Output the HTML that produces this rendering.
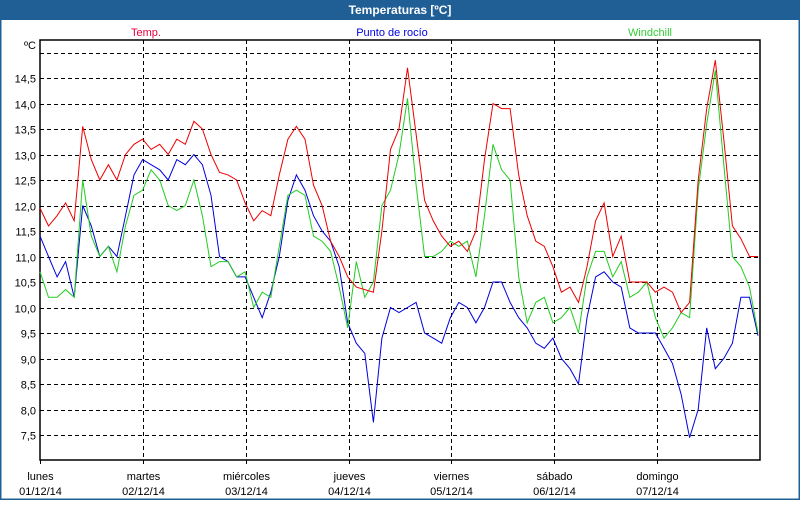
<!DOCTYPE html>
<html><head><meta charset="utf-8"><style>
body{margin:0;width:800px;height:500px;overflow:hidden;background:#fff;font-family:"Liberation Sans","DejaVu Sans",sans-serif}
</style></head><body>
<svg id="c" width="800" height="500" xmlns="http://www.w3.org/2000/svg"></svg>
<script>
const dayLabels=["lunes","martes","miércoles","jueves","viernes","sábado","domingo"];
const dateLabels=["01/12/14","02/12/14","03/12/14","04/12/14","05/12/14","06/12/14","07/12/14"];
const yTicks=[7.5,8,8.5,9,9.5,10,10.5,11,11.5,12,12.5,13,13.5,14,14.5,15];
const temp=[11.95,11.6,11.8,12.05,11.7,13.55,12.9,12.5,12.8,12.5,13.0,13.2,13.3,13.1,13.2,13.0,13.3,13.2,13.65,13.5,13.0,12.65,12.6,12.5,12.05,11.7,11.9,11.8,12.6,13.3,13.55,13.3,12.4,12.0,11.3,11.0,10.6,10.4,10.35,10.3,11.5,13.1,13.5,14.7,13.4,12.1,11.7,11.4,11.2,11.3,11.1,11.5,12.9,14.0,13.9,13.9,12.6,11.8,11.3,11.2,10.8,10.3,10.4,10.1,10.8,11.7,12.05,11.0,11.4,10.5,10.5,10.5,10.3,10.4,10.3,9.9,10.1,12.5,13.9,14.85,13.3,11.6,11.35,11.0,11.0];
const dew=[11.4,11.0,10.6,10.9,10.2,12.0,11.6,11.0,11.2,11.0,11.8,12.6,12.9,12.8,12.7,12.5,12.9,12.8,13.0,12.8,12.2,11.0,10.9,10.6,10.6,10.2,9.8,10.3,11.0,12.1,12.6,12.3,11.8,11.5,11.3,10.8,9.7,9.3,9.1,7.75,9.4,10.0,9.9,10.0,10.1,9.5,9.4,9.3,9.8,10.1,10.0,9.7,10.0,10.5,10.5,10.1,9.8,9.6,9.3,9.2,9.4,9.0,8.8,8.5,9.8,10.6,10.7,10.5,10.4,9.6,9.5,9.5,9.5,9.2,8.9,8.3,7.45,8.0,9.6,8.8,9.0,9.3,10.2,10.2,9.45];
const wind=[10.7,10.2,10.2,10.35,10.2,12.5,11.4,11.0,11.2,10.7,11.6,12.2,12.3,12.7,12.5,12.0,11.9,12.0,12.5,11.8,10.8,10.9,10.9,10.6,10.7,10.0,10.3,10.2,11.2,12.2,12.3,12.2,11.4,11.3,11.1,10.4,9.6,10.9,10.2,10.5,12.0,12.3,13.0,14.1,12.4,11.0,11.0,11.1,11.3,11.2,11.3,10.6,11.8,13.2,12.7,12.5,10.6,9.7,10.1,10.2,9.7,9.8,10.0,9.5,10.6,11.1,11.1,10.6,10.9,10.2,10.3,10.5,9.8,9.4,9.6,9.9,9.8,12.3,13.6,14.65,12.8,11.0,10.8,10.4,9.5];

const svg=document.getElementById('c');
const NS="http://www.w3.org/2000/svg";
const L=40,R=760,T=40,B=460;
const yScale=v=>52.5+(15-v)*51;
const xDay=d=>L+d*(R-L)/7;
function mk(tag,attrs,parent){const e=document.createElementNS(NS,tag);for(const k in attrs)e.setAttribute(k,attrs[k]);(parent||svg).appendChild(e);return e;}

let e=mk('rect',{x:0,y:0,width:800,height:500,fill:'#fff',stroke:'#1f5f96','stroke-width':3});


e=mk('rect',{x:0,y:0,width:800,height:20,fill:'#1f5f96'});


e=mk('text',{x:400,y:14,'text-anchor':'middle',fill:'#fff','font-size':12,'font-weight':'bold'});
e.textContent='Temperaturas [ºC]';



const legends=[['Temp.','#e8003c',146,'legend-temp'],['Punto de rocío','#0000dd',392,'legend-dew-point'],['Windchill','#33cc33',650,'legend-windchill']];
legends.forEach(l=>{const t=mk('text',{x:l[2],y:36,'text-anchor':'middle',fill:l[1],'font-size':11});t.textContent=l[0];

});

yTicks.forEach(v=>{const y=Math.round(yScale(v))+0.5;
const g=mk('line',{x1:L,x2:R,y1:y,y2:y,stroke:'#000','stroke-dasharray':'4,3','stroke-width':1});


if(v<15){const t=mk('text',{x:36,y:y+4,'text-anchor':'end','font-size':11,fill:'#000'});t.textContent=v.toFixed(1).replace('.',',');

}});
e=mk('text',{x:36,y:49,'text-anchor':'end','font-size':11,fill:'#000'});e.textContent='ºC';


dayLabels.forEach((d,i)=>{const x=Math.round(xDay(i))+0.5;
if(i>0){const g=mk('line',{x1:x,x2:x,y1:T,y2:B,stroke:'#000','stroke-dasharray':'4,3'});

}
const tk=mk('line',{x1:x,x2:x,y1:B,y2:B+4,stroke:'#000'});


const t1=mk('text',{x:x,y:480,'text-anchor':'middle','font-size':11});t1.textContent=d;


const t2=mk('text',{x:x,y:495,'text-anchor':'middle','font-size':11});t2.textContent=dateLabels[i];

});
e=mk('rect',{x:L,y:T,width:R-L,height:B-T,fill:'none',stroke:'#000','stroke-width':1.5});



function series(data,color,name){const n=data.length;
const pts=data.map((v,i)=>(L+i*(R-L-2)/(n-1)).toFixed(1)+','+yScale(v).toFixed(1)).join(' ');
const p=mk('polyline',{points:pts,fill:'none',stroke:color,'stroke-width':1});

}
series(dew,'#0000dd','dew-point-line');
series(wind,'#22cc22','windchill-line');
series(temp,'#ee0000','temp-line');
</script>
</body></html>
